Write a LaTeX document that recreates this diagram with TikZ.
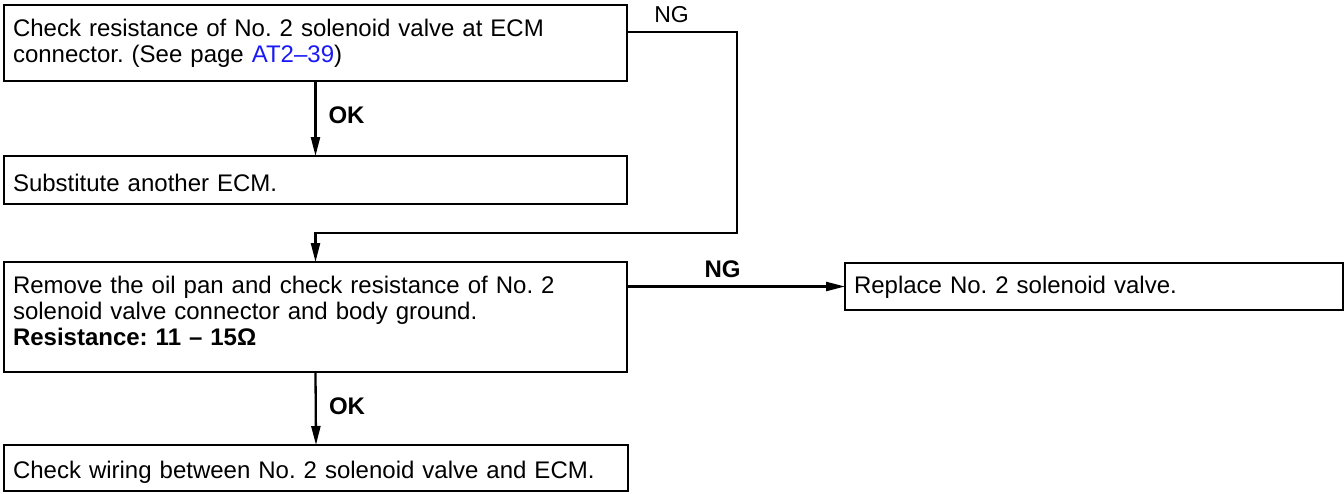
\documentclass[tikz,border=0pt]{standalone}
\usepackage{fontspec}
\setmainfont{Liberation Sans}
\usetikzlibrary{arrows.meta}
\definecolor{linkblue}{RGB}{25,25,245}
\begin{document}
\frenchspacing
\begin{tikzpicture}[x=1pt,y=-1pt,
  box/.style={draw, line width=2.6pt, anchor=north west, align=left, inner xsep=9pt, inner ysep=0pt, outer sep=0pt, font=\fontsize{24}{26}\selectfont},
  conn/.style={line width=2.3pt},
  arr/.style={conn, -{Triangle[length=19pt,width=9pt]}},
  lab/.style={font=\fontsize{24}{26}\selectfont\bfseries, anchor=base, inner sep=0pt},
  labr/.style={font=\fontsize{23}{26}\selectfont, anchor=base, inner sep=0pt},
  ]
\useasboundingbox (0,0) rectangle (1344,493);
\node[box, text width=605pt, text height=31pt, text depth=45pt] (b1) at (4,5)
  {Check resistance of No. 2 solenoid valve at ECM\\connector. (See page \textcolor{linkblue}{AT2–39})};
\node[box, text width=605pt, text height=35pt, text depth=13pt] (b2) at (4,156)
  {Substitute another ECM.};
\node[box, text width=605pt, text height=31pt, text depth=79pt] (b3) at (4,262)
  {Remove the oil pan and check resistance of No. 2\\solenoid valve connector and body ground.\\\textbf{Resistance: 11 – 15Ω}};
\node[box, text width=480pt, text height=30pt, text depth=17pt] (b4) at (845,263)
  {Replace No. 2 solenoid valve.};
\node[box, text width=606pt, text height=33pt, text depth=13pt] (b5) at (4,445)
  {Check wiring between No. 2 solenoid valve and ECM.};
\coordinate (c1) at (737,32);
\coordinate (c2) at (737,233);
\coordinate (c3) at (b1.south |- c2);
\draw[arr] (b1.east |- c1) -- (c1) -- (c2) -- (c3) -- (b3.north);
\draw[arr] (b1.south) -- (b2.north);
\draw[arr] (b3.south) -- (b5.north);
\draw[arr] (b3.east |- b4.west) -- (b4.west);
\node[labr] (ng1) at (671.5,22) {NG};
\node[lab] (ok1) at (346.5,123) {OK};
\node[lab] (ok2) at (347,414) {OK};
\node[lab] (ng2) at (722.5,277) {NG};
\end{tikzpicture}
\end{document}
